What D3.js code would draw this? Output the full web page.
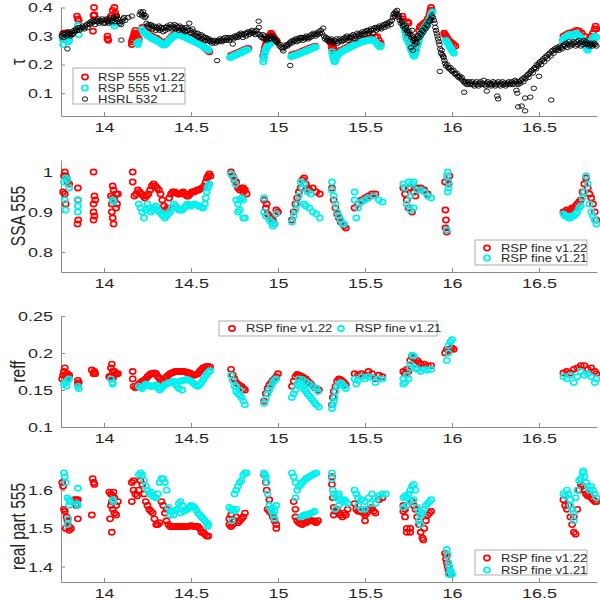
<!DOCTYPE html>
<html><head><meta charset="utf-8">
<script src="https://cdn.jsdelivr.net/npm/d3@7"></script>
<style>body{margin:0;background:#fff}svg{display:block}</style>
</head><body><svg id="c" width="600" height="600"></svg>
<script>
const xTicks=[14,14.5,15,15.5,16,16.5];
const tauTicks=[0.1,0.2,0.3,0.4];
const ssaTicks=[0.8,0.9,1];
const reffTicks=[0.1,0.15,0.2,0.25];
const realTicks=[1.4,1.5,1.6];
const legendTau=["RSP 555 v1.22","RSP 555 v1.21","HSRL 532"];
const legendFine=["RSP fine v1.22","RSP fine v1.21"];

// Panel 1: optical depth
const tauRed=[[13.762,0.30],[13.765,0.29],[13.77,0.31],[13.775,0.30],[13.78,0.31],[13.79,0.31],[13.8,0.305],[13.845,0.37],[13.85,0.36],[13.855,0.355],[13.943,0.40],[13.94,0.372],[13.945,0.375],[13.937,0.317],[14.06,0.40],[14.05,0.39],[14.04,0.37],[14.03,0.355],[14.065,0.38],[14.07,0.37],[14.02,0.355],[14.02,0.30],[14.025,0.285],[14.02,0.29],[14.16,0.27],[14.16,0.28],[14.165,0.29],[14.17,0.30],[14.175,0.31],[14.18,0.32],[14.185,0.31],[14.19,0.30],[14.2,0.29],[14.17,0.285],[14.18,0.295],
[14.22,0.33],[14.232,0.318],[14.244,0.312],[14.256,0.31],[14.268,0.302],[14.28,0.298],[14.292,0.294],[14.304,0.292],[14.316,0.286],[14.328,0.28],[14.34,0.276],[14.352,0.276],[14.364,0.282],[14.376,0.29],[14.388,0.298],[14.4,0.304],[14.412,0.308],[14.424,0.312],[14.436,0.31],[14.448,0.306],[14.46,0.304],[14.472,0.3],[14.484,0.297],[14.496,0.294],[14.508,0.29],[14.52,0.286],[14.532,0.283],[14.544,0.28],[14.556,0.276],[14.568,0.27],[14.58,0.258],[14.592,0.252],[14.6,0.248],[14.606,0.245],
[14.73,0.232],[14.745,0.236],[14.76,0.24],[14.775,0.244],[14.79,0.248],[14.805,0.252],[14.82,0.256],[14.83,0.257],
[14.915,0.23],[14.92,0.245],[14.925,0.26],[14.93,0.27],[14.935,0.28],[14.94,0.285],[14.945,0.29],[14.95,0.3],[14.955,0.305],[14.96,0.31],[14.965,0.305],[14.97,0.3],[14.975,0.295],[14.98,0.29],[14.985,0.285],[14.99,0.28],
[15.08,0.235],[15.1,0.238],[15.12,0.242],[15.14,0.248],[15.16,0.252],[15.18,0.258],[15.2,0.262],[15.215,0.265],
[15.3,0.28],[15.305,0.275],[15.308,0.26],[15.31,0.27],[15.315,0.265],[15.32,0.255],[15.325,0.245],[15.33,0.24],
[15.36,0.25],[15.38,0.256],[15.4,0.262],[15.42,0.268],[15.44,0.274],[15.46,0.28],[15.48,0.285],[15.5,0.288],[15.52,0.292],[15.54,0.294],[15.56,0.296],[15.57,0.298],[15.58,0.285],[15.59,0.275],
[15.715,0.37],[15.718,0.36],[15.72,0.35],[15.725,0.34],[15.73,0.33],[15.74,0.31],[15.745,0.3],[15.75,0.29],[15.755,0.28],[15.76,0.27],[15.765,0.26],[15.77,0.25],[15.775,0.24],[15.745,0.35],[15.75,0.345],
[15.79,0.25],[15.795,0.26],[15.8,0.28],[15.805,0.3],[15.81,0.32],[15.815,0.33],[15.82,0.335],[15.83,0.34],[15.84,0.345],[15.85,0.35],[15.86,0.36],[15.87,0.375],[15.875,0.39],[15.88,0.4],[15.885,0.39],
[15.955,0.31],[15.96,0.305],[15.965,0.3],[15.97,0.295],[15.975,0.29],[15.98,0.285],[15.99,0.28],[16.0,0.275],[16.01,0.27],[16.02,0.265],
[16.64,0.3],[16.655,0.305],[16.67,0.31],[16.685,0.312],[16.7,0.315],[16.715,0.32],[16.73,0.318],[16.745,0.31],[16.76,0.3],[16.775,0.28],[16.79,0.29],[16.8,0.3],[16.81,0.31],[16.82,0.325],[16.825,0.335],[16.83,0.325]];

const tauCyan=[[13.762,0.29],[13.765,0.27],[13.775,0.3],[13.785,0.29],[13.795,0.28],[13.8,0.285],[13.85,0.338],[13.855,0.305],[14.05,0.345],[14.06,0.335],[14.065,0.345],[14.19,0.275],[14.195,0.27],[14.2,0.28],
[14.218,0.324],[14.224,0.318],[14.23,0.312],[14.236,0.31],[14.242,0.306],[14.248,0.302],[14.254,0.304],[14.26,0.298],[14.266,0.296],[14.272,0.294],[14.278,0.29],[14.284,0.292],[14.29,0.288],[14.296,0.285],[14.302,0.286],[14.308,0.282],[14.314,0.28],[14.32,0.278],[14.326,0.275],[14.332,0.272],[14.338,0.27],[14.344,0.268],[14.35,0.27],[14.356,0.272],[14.362,0.276],[14.368,0.28],[14.374,0.285],[14.38,0.288],[14.386,0.292],[14.392,0.295],[14.398,0.298],[14.404,0.3],[14.41,0.302],[14.416,0.305],[14.422,0.306],[14.428,0.305],[14.434,0.304],[14.44,0.303],[14.446,0.302],[14.452,0.3],[14.458,0.298],[14.464,0.296],[14.47,0.295],[14.476,0.293],[14.482,0.291],[14.488,0.29],[14.494,0.288],[14.5,0.286],[14.506,0.284],[14.512,0.283],[14.518,0.281],[14.524,0.279],[14.53,0.278],[14.536,0.276],[14.542,0.274],[14.548,0.272],[14.554,0.27],[14.56,0.268],[14.566,0.265],[14.572,0.263],[14.578,0.26],[14.584,0.258],[14.59,0.256],[14.596,0.253],[14.602,0.25],
[14.724,0.225],[14.73,0.226],[14.736,0.228],[14.742,0.23],[14.748,0.232],[14.754,0.233],[14.76,0.235],[14.766,0.236],[14.772,0.238],[14.778,0.24],[14.784,0.241],[14.79,0.243],[14.796,0.245],[14.802,0.247],[14.808,0.248],[14.814,0.25],[14.82,0.252],[14.826,0.252],
[14.915,0.21],[14.918,0.22],[14.92,0.23],[14.924,0.24],[14.928,0.25],[14.932,0.255],[14.936,0.26],[14.94,0.265],[14.946,0.27],[14.952,0.27],[14.96,0.275],[14.97,0.28],
[15.075,0.228],[15.082,0.23],[15.09,0.232],[15.098,0.232],[15.106,0.235],[15.114,0.236],[15.122,0.238],[15.13,0.24],[15.138,0.242],[15.146,0.244],[15.154,0.246],[15.162,0.248],[15.17,0.25],[15.178,0.252],[15.186,0.254],[15.194,0.256],[15.202,0.258],[15.21,0.26],[15.216,0.262],
[15.31,0.245],[15.314,0.235],[15.318,0.225],[15.322,0.215],[15.326,0.21],[15.33,0.215],[15.335,0.225],[15.34,0.232],[15.345,0.236],[15.35,0.238],
[15.355,0.24],[15.362,0.244],[15.37,0.247],[15.378,0.25],[15.386,0.252],[15.394,0.255],[15.402,0.257],[15.41,0.26],[15.418,0.262],[15.426,0.265],[15.434,0.267],[15.442,0.27],[15.45,0.272],[15.458,0.274],[15.466,0.276],[15.474,0.278],[15.482,0.28],[15.49,0.281],[15.498,0.282],[15.506,0.284],[15.514,0.285],[15.522,0.285],[15.53,0.286],[15.538,0.287],[15.546,0.286],[15.555,0.282],[15.565,0.275],[15.575,0.268],[15.585,0.262],[15.592,0.265],
[15.72,0.34],[15.725,0.33],[15.73,0.315],[15.735,0.3],[15.74,0.29],[15.748,0.28],[15.755,0.27],[15.76,0.26],[15.765,0.25],[15.77,0.245],[15.775,0.235],[15.78,0.23],[15.785,0.23],
[15.79,0.24],[15.795,0.25],[15.8,0.265],[15.806,0.275],[15.812,0.29],[15.818,0.3],[15.824,0.31],[15.83,0.315],[15.836,0.325],[15.842,0.33],[15.848,0.335],[15.854,0.34],[15.86,0.345],[15.866,0.35],[15.872,0.36],[15.878,0.37],[15.884,0.38],[15.888,0.385],
[15.965,0.285],[15.97,0.28],[15.975,0.275],[15.98,0.27],[15.985,0.265],[15.99,0.26],[15.995,0.255],[16.0,0.25],[16.005,0.245],[16.01,0.24],
[16.635,0.285],[16.642,0.29],[16.65,0.295],[16.658,0.3],[16.666,0.302],[16.674,0.305],[16.682,0.305],[16.69,0.3],[16.698,0.305],[16.706,0.308],[16.714,0.31],[16.722,0.305],[16.73,0.3],[16.738,0.295],[16.746,0.29],[16.754,0.285],[16.762,0.28],[16.77,0.265],[16.775,0.255],[16.78,0.25],[16.785,0.26],[16.79,0.27],[16.798,0.28],[16.806,0.29],[16.814,0.295],[16.822,0.3],[16.83,0.295]];

const tauBlack=[[13.758,0.30],[13.762,0.31],[13.768,0.295],[13.772,0.305],[13.778,0.31],[13.785,0.30],[13.79,0.255],[13.792,0.315],[13.798,0.305],[13.803,0.31],[13.808,0.30],[13.813,0.315],[13.818,0.305],[13.823,0.31],[13.828,0.32],
[13.834,0.315],[13.84,0.325],[13.846,0.32],[13.852,0.33],[13.858,0.32],[13.864,0.33],[13.87,0.325],[13.876,0.335],[13.882,0.33],[13.888,0.325],[13.894,0.335],[13.9,0.34],[13.906,0.33],
[13.912,0.345],[13.918,0.34],[13.924,0.35],[13.93,0.345],[13.936,0.355],[13.942,0.35],[13.948,0.34],[13.954,0.355],[13.96,0.35],[13.966,0.36],[13.972,0.345],[13.978,0.355],[13.984,0.35],[13.99,0.36],[13.996,0.345],
[14.002,0.355],[14.008,0.345],[14.014,0.36],[14.02,0.35],[14.026,0.345],[14.032,0.36],[14.038,0.365],[14.044,0.35],[14.05,0.355],[14.056,0.365],[14.062,0.35],[14.068,0.36],[14.074,0.37],[14.08,0.36],[14.086,0.35],[14.092,0.345],[14.098,0.34],[14.104,0.35],[14.11,0.36],[14.116,0.365],[14.122,0.355],[14.1,0.286],[14.14,0.365],[14.16,0.37],
[14.205,0.375],[14.21,0.385],[14.215,0.38],[14.22,0.37],[14.225,0.385],[14.23,0.375],[14.235,0.365],[14.24,0.37],
[14.245,0.345],[14.25,0.335],[14.256,0.34],[14.262,0.33],[14.268,0.34],[14.274,0.335],[14.28,0.325],[14.286,0.335],[14.292,0.33],
[14.298,0.32],[14.304,0.33],[14.31,0.325],[14.316,0.335],[14.322,0.32],[14.328,0.33],[14.334,0.325],[14.34,0.315],[14.346,0.33],[14.352,0.32],[14.358,0.33],[14.364,0.335],[14.37,0.325],[14.376,0.33],[14.382,0.34],[14.388,0.325],[14.394,0.335],[14.4,0.33],[14.406,0.34],[14.412,0.325],[14.418,0.335],[14.424,0.33],[14.43,0.32],[14.436,0.335],[14.442,0.325],[14.448,0.33],[14.454,0.32],[14.46,0.325],[14.466,0.315],[14.472,0.33],[14.478,0.32],[14.484,0.325],[14.49,0.345],[14.496,0.32],[14.502,0.31],[14.508,0.325],[14.514,0.315],
[14.52,0.305],[14.526,0.31],[14.532,0.3],[14.538,0.31],[14.544,0.295],[14.55,0.3],[14.556,0.305],[14.562,0.29],[14.568,0.3],[14.574,0.295],[14.58,0.285],[14.586,0.295],[14.592,0.29],[14.598,0.285],[14.604,0.29],[14.61,0.28],[14.616,0.285],[14.622,0.275],[14.628,0.28],[14.634,0.285],[14.64,0.275],[14.646,0.28],[14.65,0.214],
[14.654,0.285],[14.66,0.28],[14.666,0.29],[14.672,0.285],[14.678,0.28],[14.684,0.29],[14.69,0.285],[14.696,0.295],[14.702,0.285],[14.708,0.29],[14.714,0.295],[14.72,0.285],[14.726,0.29],[14.732,0.295],[14.74,0.272],[14.745,0.29],[14.75,0.3],[14.756,0.295],
[14.762,0.3],[14.768,0.295],[14.774,0.305],[14.78,0.3],[14.786,0.31],[14.792,0.305],[14.798,0.295],[14.804,0.305],[14.81,0.31],[14.816,0.3],[14.822,0.31],[14.828,0.315],[14.834,0.305],[14.84,0.315],[14.846,0.31],[14.852,0.32],[14.858,0.31],[14.864,0.315],[14.87,0.305],[14.876,0.32],[14.882,0.31],[14.889,0.352],[14.89,0.33],
[14.894,0.305],[14.9,0.3],[14.906,0.295],[14.912,0.305],[14.918,0.29],[14.924,0.3],[14.93,0.29],[14.936,0.285],[14.942,0.295],[14.948,0.29],[14.954,0.3],[14.96,0.29],[14.966,0.3],[14.972,0.295],[14.978,0.29],[14.984,0.285],[14.99,0.28],[14.996,0.285],
[15.002,0.275],[15.008,0.265],[15.014,0.27],[15.02,0.26],[15.026,0.255],[15.03,0.248],[15.036,0.26],[15.042,0.265],[15.048,0.27],[15.054,0.265],[15.07,0.197],
[15.06,0.27],[15.066,0.275],[15.072,0.28],[15.078,0.275],[15.084,0.285],[15.09,0.28],[15.096,0.285],[15.102,0.29],[15.108,0.28],[15.114,0.29],[15.12,0.285],[15.126,0.295],[15.132,0.29],[15.138,0.295],[15.144,0.285],[15.15,0.295],[15.156,0.29],[15.162,0.3],[15.168,0.295],[15.174,0.29],[15.18,0.3],[15.186,0.295],[15.192,0.305],[15.198,0.3],[15.204,0.31],[15.21,0.305],[15.216,0.3],[15.222,0.31],[15.228,0.305],[15.234,0.315],[15.24,0.31],[15.246,0.32],[15.252,0.31],[15.26,0.328],
[15.264,0.3],[15.27,0.29],[15.276,0.295],[15.282,0.285],[15.288,0.29],[15.294,0.28],[15.3,0.285],[15.306,0.29],[15.312,0.28],[15.318,0.275],[15.324,0.285],[15.33,0.28],[15.336,0.29],[15.342,0.275],[15.348,0.28],[15.354,0.29],[15.36,0.285],[15.366,0.28],[15.372,0.29],[15.378,0.285],[15.384,0.295],[15.39,0.29],[15.396,0.3],[15.402,0.285],[15.408,0.295],[15.414,0.29],[15.42,0.3],
[15.426,0.295],[15.432,0.305],[15.438,0.3],[15.444,0.29],[15.45,0.3],[15.456,0.31],[15.462,0.305],[15.468,0.3],[15.474,0.31],[15.48,0.305],[15.486,0.315],[15.492,0.31],[15.498,0.305],[15.504,0.315],[15.51,0.32],[15.516,0.31],[15.522,0.32],[15.528,0.315],[15.534,0.325],[15.54,0.32],[15.546,0.31],[15.552,0.325],[15.558,0.33],[15.564,0.32],[15.57,0.33],[15.576,0.325],[15.582,0.335],[15.588,0.33],[15.594,0.325],[15.6,0.335],[15.606,0.34],[15.612,0.33],[15.618,0.34],[15.624,0.345],[15.63,0.335],[15.636,0.345],[15.642,0.35],[15.648,0.34],[15.654,0.355],
[15.66,0.365],[15.664,0.375],[15.668,0.38],[15.672,0.37],[15.676,0.385],[15.68,0.38],[15.684,0.39],[15.688,0.375],[15.692,0.365],[15.696,0.37],
[15.7,0.355],[15.706,0.345],[15.712,0.35],[15.718,0.335],[15.724,0.34],[15.73,0.325],[15.736,0.33],[15.742,0.32],[15.748,0.31],[15.754,0.315],[15.76,0.305],[15.766,0.295],[15.772,0.3],[15.778,0.285],[15.784,0.29],[15.79,0.28],[15.796,0.275],[15.765,0.26],[15.775,0.25],[15.785,0.27],[15.77,0.32],
[15.8,0.29],[15.806,0.3],[15.812,0.295],[15.818,0.31],[15.824,0.305],[15.83,0.32],[15.836,0.315],[15.842,0.33],[15.848,0.325],[15.854,0.34],[15.86,0.335],[15.866,0.35],[15.872,0.355],[15.878,0.36],[15.884,0.37],[15.89,0.365],[15.896,0.355],
[15.9,0.345],[15.904,0.33],[15.908,0.32],[15.912,0.31],[15.916,0.3],[15.92,0.29],[15.924,0.28],[15.928,0.27],[15.932,0.255],[15.936,0.24],[15.94,0.25],[15.944,0.235],[15.948,0.23],[15.93,0.176],[15.952,0.225],[15.956,0.215],
[15.96,0.205],[15.966,0.195],[15.972,0.2],[15.978,0.19],[15.984,0.185],[15.99,0.19],[15.996,0.18],[16.002,0.175],[16.008,0.18],[16.014,0.17],[16.02,0.165],[16.026,0.17],[16.032,0.16],[16.038,0.155],[16.044,0.16],[16.05,0.15],[16.056,0.155],
[16.062,0.145],[16.068,0.14],[16.074,0.135],[16.08,0.14],[16.086,0.13],[16.092,0.135],[16.098,0.14],[16.104,0.13],[16.11,0.135],[16.116,0.14],[16.122,0.13],[16.128,0.125],[16.134,0.135],[16.14,0.14],[16.146,0.13],[16.152,0.125],[16.158,0.135],[16.164,0.14],[16.17,0.13],[16.176,0.135],[16.182,0.145],[16.188,0.13],[16.194,0.125],[16.2,0.135],[16.206,0.14],[16.212,0.13],[16.218,0.135],[16.224,0.125],[16.23,0.13],[16.236,0.14],[16.242,0.135],[16.248,0.125],[16.254,0.13],[16.26,0.135],[16.266,0.14],[16.272,0.13],[16.278,0.125],[16.284,0.135],[16.29,0.14],[16.296,0.13],[16.302,0.135],[16.308,0.125],[16.314,0.13],[16.32,0.135],[16.326,0.14],[16.332,0.13],[16.338,0.135],[16.344,0.14],[16.35,0.13],[16.356,0.135],[16.362,0.145],[16.368,0.14],[16.374,0.135],
[16.07,0.103],[16.2,0.107],[16.26,0.09],[16.265,0.08],[16.37,0.11],[16.375,0.1],[16.42,0.083],[16.45,0.086],[16.38,0.052],[16.4,0.055],[16.42,0.038],[16.57,0.076],[16.47,0.117],[16.5,0.159],
[16.38,0.13],[16.386,0.14],[16.392,0.135],[16.398,0.145],[16.404,0.15],[16.41,0.14],[16.416,0.155],[16.422,0.15],[16.428,0.16],[16.434,0.165],[16.44,0.155],[16.446,0.17],[16.452,0.175],[16.458,0.18],[16.464,0.17],[16.47,0.185],[16.476,0.19],[16.482,0.185],[16.488,0.2],[16.494,0.195],
[16.5,0.205],[16.506,0.21],[16.512,0.2],[16.518,0.215],[16.524,0.22],[16.53,0.21],[16.536,0.225],[16.542,0.23],[16.548,0.22],[16.554,0.235],[16.56,0.24],[16.566,0.23],[16.572,0.245],[16.578,0.25],[16.584,0.24],[16.59,0.255],[16.596,0.25],[16.602,0.26],[16.608,0.255],[16.614,0.25],[16.62,0.265],[16.626,0.26],[16.632,0.255],[16.638,0.265],
[16.644,0.27],[16.65,0.265],[16.656,0.275],[16.662,0.26],[16.668,0.27],[16.674,0.28],[16.68,0.265],[16.686,0.275],[16.692,0.27],[16.698,0.28],[16.704,0.275],[16.71,0.265],[16.716,0.28],[16.722,0.27],[16.728,0.285],[16.734,0.275],[16.74,0.265],[16.746,0.28],[16.752,0.27],[16.758,0.285],[16.764,0.275],[16.77,0.28],[16.776,0.27],[16.782,0.275],[16.788,0.265],[16.794,0.27],[16.8,0.275],[16.806,0.265],[16.812,0.27],[16.818,0.275],[16.824,0.27],[16.83,0.265]];

// Panel 2: single scattering albedo
const ssaRed=[[13.765,0.95],[13.77,0.99],[13.775,1.0],[13.78,0.99],[13.785,0.985],[13.79,0.975],[13.8,0.97],[13.78,0.92],[13.775,0.945],
[13.85,0.96],[13.85,0.93],[13.852,0.88],[13.848,0.87],
[13.94,1.0],[13.945,0.94],[13.95,0.93],[13.94,0.92],[13.94,0.9],[13.945,0.89],[13.94,0.88],
[14.05,0.965],[14.055,0.955],[14.04,0.94],[14.05,0.935],[14.06,0.93],[14.045,0.92],[14.07,0.945],[14.08,0.945],[14.075,0.92],[14.07,0.91],[14.045,0.9],[14.05,0.885],[14.055,0.87],
[14.165,1.0],[14.165,0.975],
[14.175,0.94],[14.185,0.945],[14.195,0.955],[14.205,0.95],[14.215,0.945],[14.225,0.94],[14.235,0.935],[14.245,0.94],[14.255,0.945],[14.265,0.955],[14.275,0.965],[14.285,0.97],[14.295,0.965],[14.305,0.96],[14.315,0.955],[14.325,0.945],[14.335,0.93],[14.345,0.915],[14.355,0.905],[14.365,0.91],[14.375,0.935],[14.385,0.945],[14.395,0.95],[14.405,0.95],[14.415,0.948],[14.425,0.945],[14.435,0.945],[14.445,0.948],[14.455,0.95],[14.465,0.945],[14.475,0.94],[14.485,0.94],[14.495,0.945],[14.505,0.95],[14.515,0.95],[14.525,0.952],[14.535,0.955],[14.545,0.955],[14.555,0.958],[14.565,0.96],[14.575,0.965],[14.585,0.975],[14.592,0.985],[14.598,0.99],[14.605,0.995],[14.612,0.99],
[14.73,1.0],[14.74,0.99],[14.75,0.98],[14.76,0.975],[14.77,0.96],[14.78,0.955],[14.79,0.96],[14.8,0.96],[14.81,0.955],[14.82,0.945],[14.8,0.95],
[14.92,0.93],[14.93,0.91],[14.935,0.92],[14.94,0.895],[14.95,0.89],[14.96,0.885],[14.97,0.88],[14.98,0.87],[14.99,0.905],[15.0,0.9],
[15.08,0.88],[15.09,0.9],[15.1,0.92],[15.11,0.935],[15.12,0.95],[15.13,0.96],[15.14,0.98],[15.15,0.985],[15.16,0.97],[15.17,0.96],[15.18,0.955],[15.2,0.96],[15.22,0.95],[15.24,0.945],
[15.31,0.96],[15.32,0.93],[15.33,0.91],[15.34,0.895],[15.35,0.885],[15.36,0.875],[15.38,0.865],[15.39,0.86],
[15.44,0.91],[15.46,0.92],[15.48,0.93],[15.5,0.935],[15.52,0.94],[15.54,0.945],[15.56,0.945],
[15.72,0.96],[15.73,0.945],[15.74,0.93],[15.75,0.96],[15.76,0.96],[15.78,0.95],[15.79,0.94],[15.8,0.96],[15.82,0.96],[15.84,0.955],[15.86,0.945],[15.77,0.9],[15.75,0.91],
[15.96,0.975],[15.962,0.905],[15.965,0.88],[15.962,0.86],[15.97,0.85],[15.98,0.97],[15.985,0.99],
[16.64,0.9],[16.65,0.9],[16.66,0.905],[16.67,0.9],[16.68,0.905],[16.69,0.91],[16.7,0.91],[16.71,0.915],[16.72,0.92],[16.73,0.925],[16.74,0.93],[16.75,0.95],[16.76,0.97],[16.77,0.985],[16.78,0.96],[16.79,0.945],[16.8,0.935],[16.81,0.92],[16.82,0.9],[16.83,0.88]];

const ssaCyan=[[13.77,0.975],[13.78,0.985],[13.79,0.98],[13.8,0.96],[13.775,0.93],[13.78,0.905],
[13.85,0.93],[13.85,0.915],[13.85,0.9],[14.05,0.93],[14.055,0.925],
[14.2,0.92],[14.21,0.91],[14.22,0.9],[14.23,0.885],[14.24,0.905],[14.25,0.92],[14.26,0.91],[14.27,0.9],[14.28,0.905],[14.29,0.91],[14.3,0.915],[14.31,0.905],[14.32,0.9],[14.33,0.895],[14.34,0.89],[14.35,0.885],[14.36,0.89],[14.37,0.895],[14.38,0.9],[14.39,0.91],[14.4,0.92],[14.41,0.915],[14.42,0.91],[14.43,0.905],[14.44,0.905],[14.45,0.905],[14.46,0.91],[14.47,0.915],[14.48,0.92],[14.49,0.918],[14.5,0.915],[14.51,0.918],[14.52,0.92],[14.53,0.918],[14.54,0.915],[14.55,0.915],[14.56,0.912],[14.57,0.91],[14.58,0.92],[14.585,0.935],[14.59,0.95],[14.595,0.96],[14.6,0.965],[14.605,0.97],
[14.73,0.995],[14.745,0.985],[14.755,0.97],[14.76,0.93],[14.77,0.92],[14.78,0.93],[14.79,0.935],[14.8,0.93],[14.77,0.9],[14.78,0.905],[14.8,0.885],[14.81,0.885],
[14.92,0.935],[14.92,0.9],[14.93,0.89],[14.95,0.88],[14.96,0.875],[14.97,0.865],[14.98,0.87],[14.99,0.895],
[15.08,0.875],[15.09,0.89],[15.1,0.905],[15.11,0.92],[15.12,0.94],[15.13,0.975],[15.14,0.96],[15.15,0.97],[15.17,0.95],[15.19,0.945],[15.15,0.92],[15.16,0.915],[15.18,0.91],[15.2,0.9],[15.22,0.895],[15.24,0.885],
[15.31,0.975],[15.31,0.955],[15.32,0.94],[15.33,0.92],[15.34,0.9],[15.35,0.89],[15.36,0.88],[15.37,0.87],[15.38,0.87],
[15.44,0.95],[15.44,0.93],[15.45,0.885],[15.46,0.91],[15.48,0.925],[15.5,0.93],[15.52,0.935],[15.55,0.94],[15.58,0.93],[15.6,0.925],
[15.72,0.97],[15.73,0.96],[15.75,0.975],[15.77,0.97],[15.78,0.975],[15.76,0.94],[15.74,0.92],[15.76,0.905],[15.78,0.91],[15.8,0.955],[15.82,0.955],[15.84,0.95],[15.86,0.94],[15.88,0.935],
[15.97,0.99],[15.975,1.0],[15.98,0.975],[15.98,0.96],[15.975,0.95],[15.97,0.855],
[16.64,0.895],[16.65,0.89],[16.66,0.89],[16.67,0.885],[16.68,0.885],[16.69,0.89],[16.7,0.89],[16.71,0.895],[16.72,0.9],[16.73,0.91],[16.74,0.915],[16.75,0.935],[16.76,0.95],[16.77,0.99],[16.78,0.97],[16.79,0.92],[16.8,0.9],[16.81,0.89],[16.82,0.88],[16.83,0.87]];

// Panel 3: effective radius
const reffRed=[[13.76,0.165],[13.765,0.17],[13.77,0.175],[13.775,0.18],[13.78,0.17],[13.79,0.172],[13.8,0.17],[13.785,0.165],[13.795,0.168],
[13.85,0.163],[13.855,0.16],[13.85,0.158],
[13.93,0.177],[13.94,0.172],[13.95,0.172],[13.945,0.175],
[14.04,0.18],[14.045,0.185],[14.05,0.175],[14.06,0.17],[14.07,0.172],[14.08,0.172],[14.04,0.168],[14.05,0.165],[14.06,0.175],[14.03,0.168],
[14.165,0.175],[14.165,0.165],[14.17,0.155],[14.18,0.153],[14.19,0.155],[14.2,0.155],
[14.2,0.158],[14.21,0.16],[14.22,0.162],[14.23,0.163],[14.24,0.165],[14.25,0.168],[14.26,0.17],[14.27,0.172],[14.28,0.172],[14.29,0.173],[14.3,0.172],[14.31,0.168],[14.32,0.165],[14.33,0.163],[14.34,0.163],[14.35,0.166],[14.36,0.168],[14.37,0.17],[14.38,0.172],[14.39,0.173],[14.4,0.174],[14.41,0.175],[14.42,0.175],[14.43,0.175],[14.44,0.175],[14.45,0.175],[14.46,0.175],[14.47,0.174],[14.48,0.174],[14.49,0.173],[14.5,0.172],[14.51,0.17],[14.52,0.17],[14.53,0.171],[14.54,0.172],[14.55,0.175],[14.56,0.178],[14.57,0.18],[14.58,0.181],[14.59,0.182],[14.6,0.182],[14.61,0.181],
[14.73,0.178],[14.74,0.17],[14.75,0.165],[14.76,0.16],[14.77,0.158],[14.78,0.156],[14.79,0.155],[14.8,0.152],[14.81,0.15],
[14.92,0.135],[14.93,0.145],[14.94,0.152],[14.95,0.157],[14.96,0.16],[14.97,0.163],[14.98,0.165],[14.99,0.168],[15.0,0.172],
[15.08,0.155],[15.09,0.162],[15.1,0.168],[15.11,0.171],[15.12,0.17],[15.13,0.169],[15.14,0.168],[15.15,0.166],[15.16,0.165],[15.17,0.162],[15.18,0.16],[15.19,0.158],[15.2,0.155],[15.21,0.153],[15.22,0.152],[15.235,0.15],
[15.31,0.13],[15.315,0.14],[15.32,0.148],[15.33,0.155],[15.34,0.162],[15.35,0.165],[15.36,0.164],[15.37,0.162],[15.38,0.16],[15.39,0.157],
[15.44,0.172],[15.46,0.17],[15.48,0.172],[15.5,0.17],[15.52,0.175],[15.54,0.172],[15.56,0.165],[15.58,0.17],[15.6,0.168],
[15.72,0.175],[15.73,0.172],[15.74,0.178],[15.75,0.175],[15.76,0.19],[15.77,0.195],[15.78,0.193],[15.79,0.185],[15.8,0.19],[15.81,0.187],[15.82,0.185],[15.84,0.185],[15.86,0.183],[15.88,0.183],
[15.96,0.2],[15.97,0.205],[15.98,0.203],[15.99,0.205],[16.0,0.207],[16.01,0.205],
[16.64,0.173],[16.66,0.175],[16.68,0.173],[16.7,0.178],[16.72,0.18],[16.74,0.183],[16.76,0.183],[16.78,0.178],[16.8,0.18],[16.82,0.175],[16.83,0.172]];

const reffCyan=[[13.77,0.158],[13.78,0.16],[13.79,0.163],[13.8,0.165],[13.785,0.155],[13.85,0.155],[13.855,0.152],[14.05,0.16],[14.05,0.158],[14.04,0.165],
[14.2,0.155],[14.21,0.153],[14.22,0.152],[14.23,0.155],[14.24,0.158],[14.25,0.157],[14.26,0.156],[14.27,0.155],[14.28,0.155],[14.29,0.156],[14.3,0.157],[14.31,0.153],[14.32,0.15],[14.33,0.152],[14.34,0.155],[14.35,0.157],[14.36,0.158],[14.37,0.16],[14.38,0.16],[14.39,0.161],[14.4,0.162],[14.41,0.158],[14.42,0.155],[14.43,0.152],[14.44,0.162],[14.45,0.15],[14.45,0.163],[14.46,0.163],[14.47,0.164],[14.48,0.164],[14.49,0.163],[14.5,0.162],[14.51,0.16],[14.52,0.158],[14.53,0.156],[14.54,0.155],[14.55,0.157],[14.56,0.16],[14.57,0.164],[14.58,0.168],[14.59,0.171],[14.6,0.174],[14.61,0.176],
[14.73,0.17],[14.74,0.163],[14.75,0.155],[14.76,0.148],[14.77,0.145],[14.78,0.143],[14.79,0.14],[14.8,0.135],[14.81,0.13],[14.76,0.155],[14.78,0.15],
[14.92,0.132],[14.93,0.138],[14.94,0.145],[14.95,0.15],[14.96,0.155],[14.97,0.16],[14.98,0.163],[14.99,0.165],
[15.08,0.14],[15.09,0.145],[15.1,0.15],[15.11,0.158],[15.12,0.16],[15.13,0.158],[15.14,0.155],[15.15,0.151],[15.16,0.148],[15.17,0.145],[15.18,0.142],[15.19,0.139],[15.2,0.136],[15.21,0.133],[15.22,0.13],[15.235,0.127],
[15.12,0.165],[15.14,0.164],[15.16,0.161],[15.18,0.158],[15.2,0.155],[15.22,0.152],[15.23,0.148],
[15.31,0.125],[15.315,0.13],[15.32,0.135],[15.325,0.14],[15.33,0.148],[15.34,0.155],[15.35,0.158],[15.36,0.16],[15.37,0.158],[15.38,0.155],[15.39,0.152],
[15.44,0.165],[15.45,0.158],[15.46,0.163],[15.48,0.168],[15.5,0.165],[15.52,0.168],[15.54,0.167],[15.56,0.16],[15.58,0.165],[15.6,0.165],
[15.72,0.165],[15.72,0.158],[15.73,0.16],[15.74,0.17],[15.75,0.165],[15.76,0.185],[15.77,0.197],[15.78,0.196],[15.79,0.18],[15.8,0.178],[15.82,0.175],[15.84,0.178],[15.86,0.177],[15.88,0.178],[15.76,0.18],
[15.97,0.19],[15.98,0.21],[15.99,0.215],[16.0,0.218],[15.98,0.2],
[16.64,0.168],[16.66,0.165],[16.68,0.17],[16.7,0.16],[16.72,0.168],[16.74,0.175],[16.76,0.17],[16.78,0.172],[16.8,0.168],[16.82,0.16],[16.83,0.165]];

// Panel 4: real refractive index
const realRed=[[13.76,1.62],[13.765,1.61],[13.77,1.55],[13.775,1.545],[13.78,1.5],[13.79,1.52],[13.8,1.505],[13.8,1.495],[13.81,1.5],[13.785,1.53],
[13.83,1.575],[13.84,1.575],[13.845,1.565],[13.85,1.575],[13.85,1.525],[13.84,1.56],
[13.935,1.63],[13.94,1.62],[13.945,1.615],[13.93,1.535],
[14.03,1.595],[14.04,1.59],[14.05,1.585],[14.055,1.595],[14.06,1.58],[14.04,1.56],[14.05,1.55],[14.06,1.54],[14.07,1.56],[14.035,1.525],[14.045,1.49],[14.07,1.535],[14.08,1.57],[14.045,1.57],
[14.16,1.62],[14.17,1.625],[14.17,1.6],[14.18,1.59],[14.19,1.585],[14.2,1.6],[14.21,1.625],[14.22,1.615],[14.23,1.59],[14.24,1.57],[14.25,1.56],[14.26,1.55],[14.27,1.545],[14.28,1.54],[14.29,1.525],[14.3,1.51],[14.31,1.51],[14.32,1.515],[14.33,1.57],[14.34,1.56],[14.35,1.54],[14.36,1.55],[14.36,1.52],[14.37,1.51],[14.38,1.505],[14.39,1.505],[14.4,1.505],[14.41,1.505],[14.42,1.505],[14.43,1.505],[14.44,1.505],[14.45,1.505],[14.46,1.505],[14.47,1.505],[14.48,1.505],[14.49,1.506],[14.5,1.507],[14.51,1.506],[14.52,1.505],[14.53,1.505],[14.54,1.505],[14.55,1.5],[14.56,1.49],[14.57,1.49],[14.58,1.485],[14.59,1.48],[14.6,1.48],[14.16,1.57],
[14.72,1.51],[14.73,1.505],[14.74,1.51],[14.75,1.52],[14.76,1.53],[14.77,1.515],[14.78,1.52],[14.79,1.525],[14.8,1.53],[14.81,1.54],[14.73,1.535],[14.72,1.525],
[14.92,1.64],[14.93,1.62],[14.935,1.6],[14.95,1.575],[14.94,1.55],[14.95,1.545],[14.96,1.54],[14.97,1.53],[14.98,1.52],[14.99,1.51],[14.99,1.5],
[15.09,1.57],[15.1,1.55],[15.1,1.53],[15.11,1.52],[15.12,1.515],[15.13,1.512],[15.14,1.51],[15.15,1.525],[15.16,1.515],[15.17,1.518],[15.18,1.52],[15.19,1.52],[15.2,1.52],[15.21,1.518],[15.22,1.515],[15.23,1.52],
[15.31,1.635],[15.31,1.615],[15.315,1.58],[15.32,1.555],[15.32,1.535],[15.33,1.545],[15.34,1.55],[15.35,1.54],[15.36,1.535],[15.37,1.53],[15.38,1.54],[15.39,1.535],[15.4,1.55],
[15.44,1.565],[15.45,1.55],[15.46,1.545],[15.47,1.545],[15.48,1.545],[15.49,1.54],[15.5,1.535],[15.5,1.52],[15.51,1.54],[15.52,1.55],[15.53,1.552],[15.54,1.555],[15.55,1.545],[15.56,1.54],[15.58,1.575],[15.6,1.58],
[15.72,1.56],[15.72,1.545],[15.73,1.55],[15.73,1.53],[15.74,1.5],[15.74,1.49],[15.76,1.5],[15.76,1.49],[15.77,1.57],[15.78,1.56],[15.79,1.55],[15.8,1.53],[15.81,1.51],[15.82,1.49],[15.83,1.475],[15.835,1.47],[15.84,1.5],[15.85,1.52],[15.86,1.535],[15.87,1.54],[15.88,1.545],
[15.96,1.435],[15.965,1.42],[15.97,1.41],[15.975,1.4],[15.98,1.39],[15.985,1.385],[15.99,1.38],[15.97,1.43],
[16.64,1.575],[16.65,1.56],[16.66,1.55],[16.67,1.56],[16.68,1.53],[16.69,1.51],[16.7,1.49],[16.71,1.485],[16.7,1.53],[16.72,1.55],[16.73,1.6],[16.74,1.615],[16.75,1.61],[16.76,1.6],[16.77,1.59],[16.78,1.585],[16.79,1.59],[16.8,1.58],[16.81,1.575],[16.82,1.57],[16.83,1.57]];

const realCyan=[[13.77,1.645],[13.775,1.635],[13.78,1.62],[13.79,1.58],[13.8,1.575],[13.805,1.57],[13.8,1.56],[13.79,1.51],[13.795,1.525],
[13.85,1.605],[13.845,1.565],[13.85,1.56],[14.05,1.575],[14.055,1.57],
[14.2,1.64],[14.21,1.645],[14.22,1.64],[14.23,1.625],[14.24,1.61],[14.25,1.6],[14.26,1.59],[14.27,1.595],[14.28,1.585],[14.29,1.582],[14.3,1.58],[14.31,1.59],[14.32,1.62],[14.33,1.63],[14.34,1.63],[14.35,1.62],[14.36,1.6],[14.37,1.555],[14.38,1.545],[14.39,1.545],[14.4,1.545],[14.41,1.548],[14.42,1.55],[14.43,1.565],[14.44,1.57],[14.45,1.56],[14.46,1.545],[14.47,1.548],[14.48,1.55],[14.49,1.555],[14.5,1.56],[14.51,1.558],[14.52,1.555],[14.53,1.548],[14.54,1.54],[14.55,1.535],[14.56,1.53],[14.57,1.525],[14.58,1.52],[14.59,1.515],[14.6,1.51],[14.595,1.505],[14.38,1.535],[14.4,1.535],[14.44,1.54],
[14.72,1.555],[14.73,1.55],[14.74,1.55],[14.75,1.59],[14.76,1.6],[14.77,1.61],[14.78,1.62],[14.79,1.625],[14.8,1.64],[14.81,1.645],[14.82,1.645],[14.75,1.545],[14.76,1.55],[14.735,1.52],
[14.92,1.645],[14.925,1.64],[14.93,1.635],[14.935,1.62],[14.94,1.59],[14.95,1.56],[14.96,1.55],[14.97,1.555],[14.98,1.545],[14.99,1.56],[14.965,1.545],[14.975,1.535],[14.98,1.525],
[15.08,1.645],[15.09,1.635],[15.1,1.62],[15.11,1.6],[15.1,1.58],[15.12,1.61],[15.13,1.615],[15.14,1.62],[15.15,1.625],[15.16,1.63],[15.17,1.632],[15.18,1.635],[15.19,1.638],[15.2,1.64],[15.21,1.643],[15.22,1.645],
[15.13,1.53],[15.14,1.532],[15.15,1.535],[15.16,1.535],[15.17,1.535],[15.18,1.538],[15.19,1.54],[15.2,1.542],[15.21,1.545],
[15.31,1.645],[15.31,1.63],[15.315,1.6],[15.32,1.59],[15.33,1.58],[15.34,1.585],[15.35,1.59],[15.36,1.575],[15.37,1.57],[15.38,1.575],[15.39,1.57],[15.4,1.565],[15.33,1.55],[15.35,1.56],
[15.44,1.6],[15.45,1.59],[15.46,1.58],[15.48,1.575],[15.5,1.57],[15.52,1.58],[15.54,1.59],[15.56,1.58],[15.58,1.585],[15.6,1.59],[15.62,1.59],[15.46,1.56],[15.48,1.55],[15.5,1.55],[15.53,1.565],[15.56,1.565],
[15.72,1.58],[15.73,1.585],[15.74,1.58],[15.75,1.59],[15.76,1.6],[15.77,1.61],[15.78,1.615],[15.79,1.6],[15.8,1.555],[15.81,1.545],[15.82,1.535],[15.83,1.54],[15.84,1.55],[15.85,1.56],[15.86,1.565],[15.87,1.57],[15.88,1.575],[15.72,1.555],[15.74,1.56],[15.76,1.57],[15.78,1.575],[15.81,1.52],[15.82,1.51],
[15.97,1.445],[15.975,1.43],[15.98,1.41],[15.985,1.4],[15.99,1.39],[15.995,1.385],[16.0,1.38],[15.98,1.38],
[16.64,1.59],[16.65,1.585],[16.66,1.6],[16.67,1.59],[16.68,1.575],[16.69,1.55],[16.7,1.52],[16.71,1.58],[16.72,1.6],[16.73,1.625],[16.74,1.63],[16.75,1.645],[16.76,1.635],[16.77,1.62],[16.78,1.61],[16.79,1.6],[16.8,1.61],[16.81,1.6],[16.82,1.59],[16.83,1.58],[16.68,1.56],[16.7,1.54],[16.755,1.65]];

const RED="#ff0000", CYAN="#00f0f0", BLACK="#000000";
const AXC="#8a8a8a", TXT="#262626", FONT='"Liberation Sans", Arial, Helvetica, sans-serif';
const SX=1.33;
const svg=d3.select('#c');
const x=d3.scaleLinear().domain([13.753,16.833]).range([61,597]);
const styleRed={color:RED,rx:3.1,ry:2.6,sw:1.6};
const styleCyan={color:CYAN,rx:3.1,ry:2.6,sw:1.6};
const styleBlack={color:BLACK,rx:2.8,ry:2.2,sw:0.9};

function panel(cfg){
  const y=d3.scaleLinear().domain(cfg.domain).range([cfg.bottom,cfg.top]);
  const g=svg.append('g');
  const ax=g.append('g').attr('transform',`translate(0,${cfg.bottom})`)
    .call(d3.axisBottom(x).tickValues(xTicks).tickFormat(d3.format('')).tickSizeInner(-4).tickSizeOuter(0).tickPadding(6));
  const ay=g.append('g').attr('transform',`translate(61,0)`)
    .call(d3.axisLeft(y).tickValues(cfg.ticks).tickFormat(d3.format('')).tickSizeInner(-4).tickSizeOuter(0).tickPadding(6));
  [ax,ay].forEach(a=>{
    a.attr('font-family',FONT).attr('font-size',13.5);
    a.selectAll('.domain,line').attr('stroke',AXC).attr('stroke-width',1);
    a.selectAll('text').attr('fill',TXT).attr('transform',`scale(${SX},1)`);
  });
  cfg.series.forEach(s=>{
    g.append('g').selectAll('ellipse').data(s.data).join('ellipse')
      .attr('cx',d=>x(d[0])).attr('cy',d=>y(d[1]))
      .attr('rx',s.style.rx).attr('ry',s.style.ry)
      .attr('fill','none').attr('stroke',s.style.color).attr('stroke-width',s.style.sw);
  });
  g.append('text').attr('transform',`translate(25,${(cfg.top+cfg.bottom)/2}) scale(1.3,1) rotate(-90)`)
    .attr('text-anchor','middle').attr('font-family',FONT).attr('font-size',cfg.labelSize||15.5)
    .attr('fill',TXT).text(cfg.label);
  const L=cfg.legend;
  const lg=svg.append('g');
  lg.append('rect').attr('x',L.x).attr('y',L.y).attr('width',L.w).attr('height',L.h)
    .attr('fill','#fff').attr('stroke','#9a9a9a').attr('stroke-width',0.8);
  L.items.forEach(it=>{
    lg.append('ellipse').attr('cx',it.mx).attr('cy',it.my).attr('rx',it.style.rx).attr('ry',it.style.ry)
      .attr('fill','none').attr('stroke',it.style.color).attr('stroke-width',it.style.sw);
    lg.append('text').attr('transform',`translate(${it.tx},${it.my}) scale(1.3,1)`)
      .attr('dy','0.35em').attr('font-family',FONT).attr('font-size',10).attr('fill',TXT).text(it.label);
  });
}

panel({domain:[0.02,0.4],top:7.5,bottom:116,ticks:tauTicks,label:"τ",labelSize:16,
  series:[{data:tauRed,style:styleRed},{data:tauCyan,style:styleCyan},{data:tauBlack,style:styleBlack}],
  legend:{x:73,y:68,w:112,h:36,items:[
    {label:legendTau[0],style:styleRed,mx:85,my:77,tx:98},
    {label:legendTau[1],style:styleCyan,mx:85,my:88,tx:98},
    {label:legendTau[2],style:styleBlack,mx:85,my:99,tx:98}]}});

panel({domain:[0.75,1.03],top:160,bottom:272,ticks:ssaTicks,label:"SSA 555",
  series:[{data:ssaRed,style:styleRed},{data:ssaCyan,style:styleCyan}],
  legend:{x:475,y:240,w:112,h:25,items:[
    {label:legendFine[0],style:styleRed,mx:487,my:248,tx:501},
    {label:legendFine[1],style:styleCyan,mx:487,my:258,tx:501}]}});

panel({domain:[0.1,0.25],top:316,bottom:427,ticks:reffTicks,label:"reff",
  series:[{data:reffRed,style:styleRed},{data:reffCyan,style:styleCyan}],
  legend:{x:219,y:321,w:218,h:15,items:[
    {label:legendFine[0],style:styleRed,mx:232,my:328.5,tx:246},
    {label:legendFine[1],style:styleCyan,mx:341,my:328.5,tx:355}]}});

panel({domain:[1.36,1.65],top:471,bottom:582,ticks:realTicks,label:"real part 555",
  series:[{data:realRed,style:styleRed},{data:realCyan,style:styleCyan}],
  legend:{x:475,y:550,w:112,h:25,items:[
    {label:legendFine[0],style:styleRed,mx:487,my:558,tx:501},
    {label:legendFine[1],style:styleCyan,mx:487,my:570,tx:501}]}});
</script></body></html>
